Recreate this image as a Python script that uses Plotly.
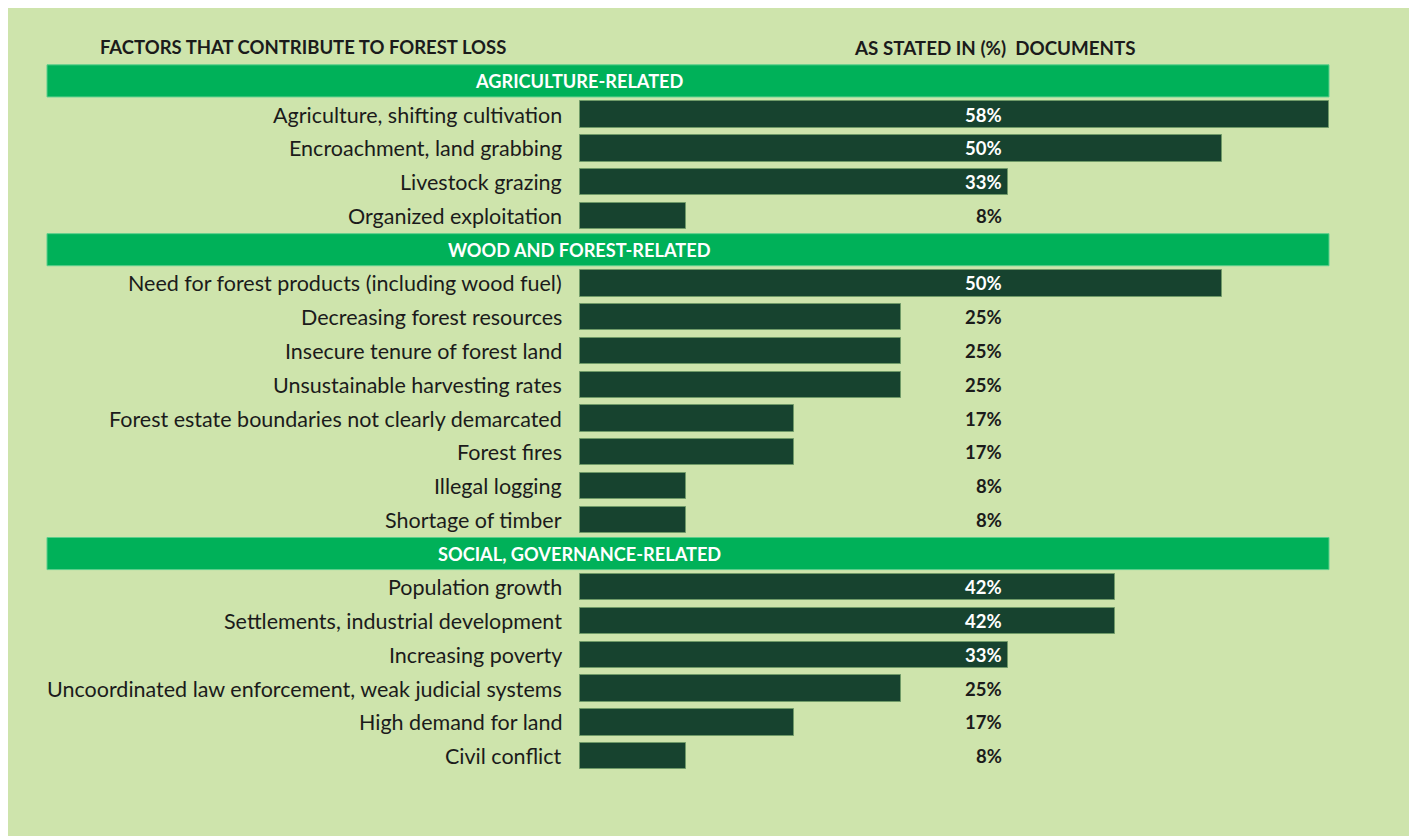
import plotly.graph_objects as go

# ---- data ----
group_titles = ["AGRICULTURE-RELATED", "WOOD AND FOREST-RELATED", "SOCIAL, GOVERNANCE-RELATED"]

agri_factors = ["Agriculture, shifting cultivation", "Encroachment, land grabbing",
                "Livestock grazing", "Organized exploitation"]
agri_values = [58.3, 50.0, 33.3, 8.3]

wood_factors = ["Need for forest products (including wood fuel)", "Decreasing forest resources",
                "Insecure tenure of forest land", "Unsustainable harvesting rates",
                "Forest estate boundaries not clearly demarcated", "Forest fires",
                "Illegal logging", "Shortage of timber"]
wood_values = [50.0, 25.0, 25.0, 25.0, 16.7, 16.7, 8.3, 8.3]

social_factors = ["Population growth", "Settlements, industrial development",
                  "Increasing poverty", "Uncoordinated law enforcement, weak judicial systems",
                  "High demand for land", "Civil conflict"]
social_values = [41.7, 41.7, 33.3, 25.0, 16.7, 8.3]

col_title_left = "FACTORS THAT CONTRIBUTE TO FOREST LOSS"
col_title_right = "AS STATED IN (%)  DOCUMENTS"

# ---- styles ----
BG = "#cee4ac"
HEADER = "#00b159"
BAR = "#17432f"
TEXT = "#1b1b1b"
FONT = "Lato"

groups = [(group_titles[0], agri_factors, agri_values),
          (group_titles[1], wood_factors, wood_values),
          (group_titles[2], social_factors, social_values)]

header_slots, item_slots, item_names, item_vals = [], [], [], []
slot = 0
for title, names, vals in groups:
    header_slots.append((slot, title))
    slot += 1
    for n, v in zip(names, vals):
        item_slots.append(slot)
        item_names.append(n)
        item_vals.append(v)
        slot += 1
n_slots = slot

W, H = 1409, 828
ml, mr, mt, mb = 39, 88, 56, 63
x_min = -41.48
x_max = 58.33
pw = W - ml - mr
ph = H - mt - mb

fig = go.Figure()
fig.add_trace(go.Bar(
    y=item_slots, x=item_vals, orientation="h", width=0.78,
    marker=dict(color=BAR, line=dict(color="#6f9a68", width=1)),
    hoverinfo="x+text", hovertext=item_names, showlegend=False,
))

shapes = []
annotations = []
for s, title in header_slots:
    shapes.append(dict(type="rect", xref="paper", yref="y", layer="below",
                       x0=0, x1=1, y0=s - 0.475, y1=s + 0.475,
                       fillcolor=HEADER, line=dict(color="#5ccf8c", width=1)))
    annotations.append(dict(x=0, y=s, xref="x", yref="y", text=title, showarrow=False,
                            xanchor="center", yanchor="middle",
                            font=dict(family=FONT, size=18.2, color="white", weight="bold")))

for s, n, v in zip(item_slots, item_names, item_vals):
    annotations.append(dict(x=-1.2, y=s, xref="x", yref="y", text=n, showarrow=False,
                            xanchor="right", yanchor="middle",
                            font=dict(family=FONT, size=21.5, color=TEXT)))
    inside = v > 33
    annotations.append(dict(x=33.0, y=s, xref="x", yref="y", text=f"{round(v)}%", showarrow=False,
                            xanchor="right", yanchor="middle",
                            font=dict(family=FONT, size=18.5, weight="bold",
                                      color="white" if inside else TEXT)))

annotations.append(dict(x=(98 - 8 - ml) / pw, y=(H - mb - 39) / ph, xref="paper", yref="paper",
                        text=col_title_left, showarrow=False, xanchor="left", yanchor="middle",
                        font=dict(family=FONT, size=18.5, color=TEXT, weight="bold")))
annotations.append(dict(x=(852 - 8 - ml) / pw, y=(H - mb - 39) / ph, xref="paper", yref="paper",
                        text=col_title_right, showarrow=False, xanchor="left", yanchor="middle",
                        font=dict(family=FONT, size=18.8, color=TEXT, weight="bold")))

fig.update_layout(
    width=W, height=H,
    margin=dict(l=ml, r=mr, t=mt, b=mb, pad=0),
    paper_bgcolor=BG, plot_bgcolor="rgba(0,0,0,0)",
    xaxis=dict(range=[x_min, x_max], visible=False, fixedrange=True),
    yaxis=dict(range=[n_slots - 0.5, -0.5], visible=False, fixedrange=True),
    shapes=shapes, annotations=annotations, bargap=0,
)

fig.write_html("out.html")
